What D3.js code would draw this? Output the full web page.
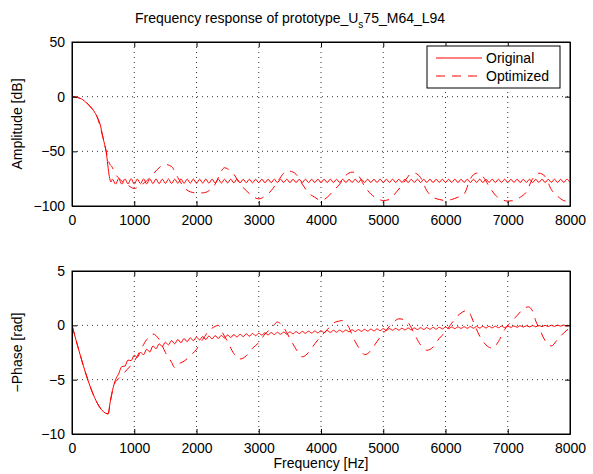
<!DOCTYPE html>
<html>
<head>
<meta charset="utf-8">
<script src="https://cdn.jsdelivr.net/npm/d3@7"></script>
<style>
  body { margin: 0; background: #fff; }
  text { font-family: "Liberation Sans", Arial, Helvetica, sans-serif; }
</style>
</head>
<body>
<div id="chart"></div>
<script>
// ---- data ----
const freqTicks = [0, 1000, 2000, 3000, 4000, 5000, 6000, 7000, 8000];
const magTicks = [-100, -50, 0, 50];
const phaseTicks = [-10, -5, 0, 5];
const seriesNames = ['Original', 'Optimized'];

// original: passband samples, then the stopband ripple sampled every 50 Hz from 650 Hz
const passMagFreq = [0, 50, 100, 150, 200, 250, 300, 350, 400, 450, 500, 550, 600, 625];
const passMag = [0, -0.2, -0.9, -2, -4, -6.5, -9.5, -13, -18, -25, -38, -51, -73, -78];
const passPhaseFreq = [0, 580, 615];
const passPhase = [0, -8.15, -7.0];
const rippleStartHz = 650;
const rippleStepHz = 50;
const rippleMag = [
  -75.5, -80, -75, -80, -75.2, -79.8, -75, -80,
  -75.3, -79.6, -75.2, -79.8, -75.3, -79.5, -75.2, -79.6, -75.4, -79.4, -75.3, -79.5,
  -75.4, -79.2, -75.3, -79.3, -75.4, -79.1, -75.3, -79.2, -75.5, -79,
  -75.4, -79.1, -75.5, -78.9, -75.4, -79, -75.5, -78.9, -75.5, -78.8,
  -75.5, -78.8, -75.6, -78.7, -75.5, -78.8, -75.6, -78.6, -75.5, -78.7,
  -75.6, -78.6, -75.5, -78.6, -75.6, -78.5, -75.5, -78.6, -75.6, -78.5,
  -75.6, -78.5, -75.5, -78.6, -75.6, -78.5, -75.5, -78.5, -75.6, -78.5,
  -75.5, -78.5, -75.6, -78.4, -75.5, -78.5, -75.6, -78.4, -75.5, -78.5,
  -75.6, -78.4, -75.5, -78.5, -75.6, -78.4, -75.5, -78.5, -75.6, -78.4,
  -75.5, -78.5, -75.6, -78.4, -75.5, -78.5, -75.6, -78.4, -75.5, -78.5,
  -75.6, -78.4, -75.5, -78.5, -75.6, -78.4, -75.5, -78.5, -75.6, -78.4,
  -75.5, -78.5, -75.6, -78.4, -75.5, -78.5, -75.6, -78.4, -75.5, -78.5,
  -75.6, -78.4, -75.5, -78.5, -75.6, -78.4, -75.5, -78.5, -75.6, -78.4,
  -75.5, -78.5, -75.6, -78.4, -75.5, -78.5, -75.6, -78.4, -75.5, -78.5,
  -75.6, -78.4, -75.5, -78.5, -75.6, -78.4, -75.5, -78.5
];
const ripplePhase = [
  -6.0, -5.0, -4.45, -3.8, -3.75, -3.2, -3.25, -2.75,
  -2.95, -2.5, -2.7, -2.2, -2.45, -1.9, -2.15, -1.7, -1.95, -1.55,
  -1.8, -1.4, -1.7, -1.3, -1.6, -1.22, -1.5, -1.15, -1.42, -1.08,
  -1.35, -1.03, -1.3, -0.98, -1.25, -0.95, -1.2, -0.92, -1.17, -0.88,
  -1.12, -0.85, -1.08, -0.82, -1.04, -0.78, -1.0, -0.75, -0.96, -0.72,
  -0.9, -0.68, -0.88, -0.66, -0.85, -0.64, -0.83, -0.62, -0.8, -0.6,
  -0.78, -0.58, -0.76, -0.56, -0.73, -0.54, -0.71, -0.52, -0.69, -0.5,
  -0.67, -0.48, -0.65, -0.46, -0.63, -0.44, -0.61, -0.43, -0.59, -0.41,
  -0.57, -0.39, -0.55, -0.37, -0.53, -0.35, -0.51, -0.33, -0.49, -0.31,
  -0.47, -0.3, -0.45, -0.28, -0.44, -0.27, -0.42, -0.25, -0.41, -0.24,
  -0.39, -0.22, -0.38, -0.21, -0.36, -0.19, -0.35, -0.18, -0.33, -0.16,
  -0.31, -0.15, -0.3, -0.14, -0.28, -0.13, -0.27, -0.12, -0.26, -0.11,
  -0.25, -0.1, -0.24, -0.09, -0.23, -0.08, -0.22, -0.07, -0.21, -0.06,
  -0.19, -0.05, -0.18, -0.04, -0.16, -0.03, -0.15, -0.02, -0.14, -0.01,
  -0.12, 0.0, -0.11, 0.01, -0.1, 0.02, -0.08, 0.03, -0.07, 0.05
];

// optimized
const optMagFreq = [0, 100, 200, 300, 400, 500, 550, 600, 640, 700,
  800, 900, 1000, 1100, 1200, 1300, 1400, 1500, 1600, 1700,
  1800, 1900, 2000, 2100, 2200, 2300, 2400, 2450, 2500, 2600,
  2700, 2800, 2900, 3000, 3100, 3200, 3300, 3400, 3450, 3500,
  3600, 3700, 3800, 3900, 4000, 4100, 4200, 4300, 4400, 4500,
  4600, 4700, 4800, 4900, 5000, 5100, 5200, 5300, 5400, 5450,
  5500, 5600, 5700, 5800, 5900, 6000, 6100, 6200, 6300, 6400,
  6500, 6600, 6700, 6800, 6900, 7000, 7100, 7200, 7300, 7400,
  7500, 7600, 7700, 7800, 7900, 8000];
const optMag = [0, -0.9, -4, -9.5, -18, -38, -50, -61, -64, -71,
  -77, -81, -84, -81, -77, -71, -65, -62, -64, -74,
  -83, -87, -88, -88, -86, -80, -68, -65, -66, -71,
  -80, -86, -91, -93.5, -91, -86, -78, -70, -67.5, -68,
  -71, -80, -88, -92, -95, -92, -86, -80, -72, -69,
  -72, -82, -89, -93, -95, -94, -88, -81, -73, -70,
  -70, -74, -86, -92, -94, -95, -94, -92, -89, -75,
  -70, -73, -82, -90, -94, -95.5, -95, -92, -87, -75,
  -70, -73, -85, -91, -95, -96];
const optPhaseFreq = [0, 580, 620, 680, 770, 880, 1000, 1100, 1200, 1300,
  1400, 1500, 1600, 1650, 1700, 1800, 1900, 2000, 2100, 2200,
  2300, 2350, 2400, 2500, 2600, 2700, 2800, 2900, 3000, 3100,
  3200, 3300, 3400, 3500, 3600, 3700, 3800, 3900, 4000, 4100,
  4200, 4300, 4350, 4400, 4450, 4500, 4550, 4650, 4700, 4750,
  4850, 4950, 5050, 5150, 5250, 5350, 5430, 5500, 5600, 5700,
  5800, 5900, 6000, 6100, 6200, 6300, 6350, 6400, 6450, 6550,
  6650, 6750, 6850, 6950, 7050, 7150, 7250, 7330, 7400, 7450,
  7500, 7600, 7700, 7800, 7900, 8000];
const optPhase = [0, -8.15, -6.9, -5.4, -4.8, -4.1, -3.3, -2.3, -1.3, -0.8,
  -1.3, -2.5, -3.4, -3.9, -3.6, -3.3, -2.8, -2.2, -1.3, -0.5,
  -0.1, 0.0, -0.5, -1.5, -2.6, -3.1, -2.8, -2.1, -1.6, -0.8,
  -0.3, 0.3, -0.2, -1.2, -2.2, -2.9, -2.5, -1.7, -1.0, -0.4,
  0.2, 0.4, 0.45, 0.2, -0.2, -0.9, -1.5, -2.4, -2.7, -2.6,
  -1.9, -1.1, -0.4, 0.2, 0.6, 0.5, 0.0, -0.8, -1.8, -2.3,
  -2.0, -1.2, -0.6, 0.2, 0.9, 1.3, 1.4, 1.0, 0.3, -1.0,
  -1.8, -2.1, -1.5, -0.4, 0.3, 0.9, 1.5, 1.7, 1.3, 0.4,
  -0.2, -1.4, -1.9, -1.3, -0.7, -0.2];

// ---- build point lists ----
const pts = (fs, vs) => fs.map((f, i) => ({ f, v: vs[i] }));
const rip = vs => vs.map((v, i) => ({ f: rippleStartHz + i * rippleStepHz, v }));
const origMagPts = pts(passMagFreq, passMag).concat(rip(rippleMag));
const origPhasePts = pts(passPhaseFreq, passPhase).concat(rip(ripplePhase));
const optMagPts = pts(optMagFreq, optMag);
const optPhasePts = pts(optPhaseFreq, optPhase);

const width = 593, height = 474;
const left = 72, right = 570;
const red = '#ff0000';
const dash = '9,7';

const svg = d3.select('#chart').append('svg')
  .attr('width', width)
  .attr('height', height)
  .style('background', '#fff');

const x = d3.scaleLinear().domain([0, 8000]).range([left, right]);

// title with subscript s
const title = svg.append('text')
  .attr('x', 135)
  .attr('y', 23)
  .attr('font-size', 14)
  .attr('fill', '#000');
title.append('tspan').text('Frequency response of prototype_U');
title.append('tspan').attr('font-size', 10).attr('dy', 5).text('s');
title.append('tspan').attr('dy', -5).text('75_M64_L94');

function panel(opts) {
  const y = d3.scaleLinear().domain(opts.domain).range([opts.bottom, opts.top]);
  const g = svg.append('g');
  const clipId = 'clip-' + opts.id;

  g.append('clipPath').attr('id', clipId)
    .append('rect')
    .attr('x', left).attr('y', opts.top)
    .attr('width', right - left).attr('height', opts.bottom - opts.top);

  // dotted grid
  g.append('g').selectAll('line.vg')
    .data(freqTicks.slice(1, -1))
    .join('line')
    .attr('x1', d => x(d)).attr('x2', d => x(d))
    .attr('y1', opts.top).attr('y2', opts.bottom)
    .attr('stroke', '#000').attr('stroke-width', 0.8)
    .attr('stroke-dasharray', '1,4');
  g.append('g').selectAll('line.hg')
    .data(opts.ticks.slice(1, -1))
    .join('line')
    .attr('y1', d => y(d)).attr('y2', d => y(d))
    .attr('x1', left).attr('x2', right)
    .attr('stroke', '#000').attr('stroke-width', 0.8)
    .attr('stroke-dasharray', '1,4');

  // curves
  const line = d3.line()
    .x(d => x(d.f))
    .y(d => y(d.v))
    .curve(d3.curveMonotoneX);

  const lines = g.append('g').attr('clip-path', `url(#${clipId})`);
  lines.append('path')
    .datum(opts.orig)
    .attr('d', line)
    .attr('fill', 'none').attr('stroke', red).attr('stroke-width', 1);
  lines.append('path')
    .datum(opts.opt)
    .attr('d', line)
    .attr('fill', 'none').attr('stroke', red).attr('stroke-width', 1)
    .attr('stroke-dasharray', dash);

  // axes with inward ticks on all four sides
  const tickLen = 5;
  const fmt = d3.format('d');
  g.append('g')
    .attr('transform', `translate(0,${opts.bottom})`)
    .call(d3.axisBottom(x).tickValues(freqTicks).tickSizeInner(-tickLen).tickSizeOuter(0).tickPadding(9).tickFormat(fmt));
  g.append('g')
    .attr('transform', `translate(0,${opts.top})`)
    .call(d3.axisTop(x).tickValues(freqTicks).tickSizeInner(-tickLen).tickSizeOuter(0).tickFormat(''));
  g.append('g')
    .attr('transform', `translate(${left},0)`)
    .call(d3.axisLeft(y).tickValues(opts.ticks).tickSizeInner(-tickLen).tickSizeOuter(0).tickPadding(7).tickFormat(d3.format('')));
  g.append('g')
    .attr('transform', `translate(${right},0)`)
    .call(d3.axisRight(y).tickValues(opts.ticks).tickSizeInner(-tickLen).tickSizeOuter(0).tickFormat(''));

  g.selectAll('.domain').attr('stroke', '#000').attr('stroke-width', 1);
  g.selectAll('.tick line').attr('stroke', '#000');
  g.selectAll('.tick text')
    .attr('font-size', 14)
    .attr('font-family', '"Liberation Sans", Arial, sans-serif')
    .attr('fill', '#000');

  // box
  g.append('rect')
    .attr('x', left).attr('y', opts.top)
    .attr('width', right - left).attr('height', opts.bottom - opts.top)
    .attr('fill', 'none').attr('stroke', '#000').attr('stroke-width', 1);

  // y label
  g.append('text')
    .attr('transform', `translate(22,${(opts.top + opts.bottom) / 2}) rotate(-90)`)
    .attr('text-anchor', 'middle')
    .attr('font-size', 14)
    .text(opts.ylabel);

  return { g, y };
}

panel({
  id: 'mag', top: 42, bottom: 206, domain: [-100, 50], ticks: magTicks,
  ylabel: 'Amplitude [dB]', orig: origMagPts, opt: optMagPts
});
panel({
  id: 'phase', top: 271, bottom: 434, domain: [-10, 5], ticks: phaseTicks,
  ylabel: '\u2212Phase [rad]', orig: origPhasePts, opt: optPhasePts
});

svg.append('text')
  .attr('x', (left + right) / 2)
  .attr('y', 468)
  .attr('text-anchor', 'middle')
  .attr('font-size', 14)
  .text('Frequency [Hz]');

// legend
const legend = svg.append('g').attr('transform', 'translate(427,46)');
legend.append('rect')
  .attr('width', 133).attr('height', 42)
  .attr('fill', '#fff').attr('stroke', '#000').attr('stroke-width', 1);
seriesNames.forEach((name, i) => {
  const ly = 12 + i * 18;
  legend.append('line')
    .attr('x1', 9).attr('x2', 55)
    .attr('y1', ly).attr('y2', ly)
    .attr('stroke', red).attr('stroke-width', 1)
    .attr('stroke-dasharray', i === 1 ? dash : null);
  legend.append('text')
    .attr('x', 59).attr('y', ly + 5)
    .attr('font-size', 14)
    .text(name);
});
</script>
</body>
</html>
